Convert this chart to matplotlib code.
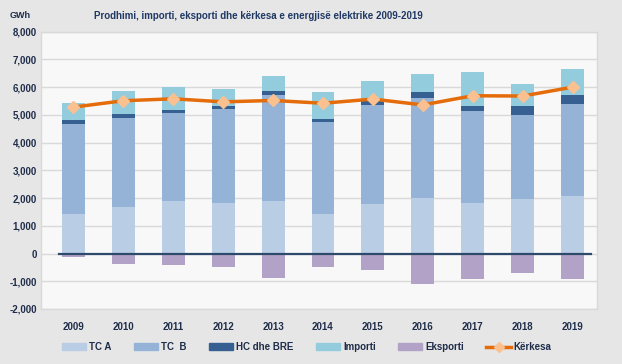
import matplotlib
matplotlib.use('Agg')
import matplotlib.pyplot as plt
from matplotlib.lines import Line2D
from matplotlib.patches import Patch
import numpy as np

# Data (GWh)
years = ['2009', '2010', '2011', '2012', '2013', '2014', '2015', '2016', '2017', '2018', '2019']
tc_a = [1420, 1680, 1890, 1820, 1890, 1420, 1790, 2000, 1820, 1960, 2070]
tc_b = [3250, 3210, 3180, 3390, 3830, 3320, 3570, 3610, 3320, 3030, 3320]
hc_bre = [140, 140, 110, 120, 140, 110, 140, 220, 180, 330, 330]
importi = [610, 830, 830, 600, 540, 970, 720, 650, 1230, 790, 940]
eksporti = [-110, -370, -400, -470, -870, -470, -580, -1090, -910, -690, -910]
kerkesa = [5280, 5510, 5580, 5470, 5520, 5420, 5570, 5360, 5690, 5680, 6000]

c_tca = '#B9CDE5'
c_tcb = '#95B3D7'
c_hc = '#376092'
c_imp = '#93CDDD'
c_eks = '#B3A2C7'
c_ker = '#E46C0A'
c_mark = '#FAC090'
c_text = '#1F2D4A'

plt.rcParams['font.family'] = ['Liberation Sans', 'DejaVu Sans']

fig = plt.figure(figsize=(6.22, 3.64), dpi=100, facecolor='#E6E6E6')
ax = fig.add_axes([41 / 622, 1 - 309 / 364, 556 / 622, 277.3 / 364])
ax.set_facecolor('#F8F8F8')

x = np.arange(len(years))
w = 0.46
b1 = np.array(tc_a)
b2 = b1 + np.array(tc_b)
b3 = b2 + np.array(hc_bre)
ax.bar(x, tc_a, w, color=c_tca, zorder=2)
ax.bar(x, tc_b, w, bottom=b1, color=c_tcb, zorder=2)
ax.bar(x, hc_bre, w, bottom=b2, color=c_hc, zorder=2)
ax.bar(x, importi, w, bottom=b3, color=c_imp, zorder=2)
ax.bar(x, eksporti, w, color=c_eks, zorder=2)

# zero axis line
ax.axhline(0, xmin=0.032, xmax=0.989, color='#2E4A6B', lw=1.6, zorder=3)

ax.plot(x, kerkesa, color=c_ker, lw=2.5, marker='D', markersize=6,
        markerfacecolor=c_mark, markeredgecolor=c_mark, zorder=4)

ax.set_xlim(-0.65, 10.49)
ax.set_ylim(-2000, 8000)
ax.set_yticks(range(-2000, 8001, 1000))
ax.set_yticklabels([f'{v:,}' for v in range(-2000, 8001, 1000)])
ax.set_xticks(x)
ax.set_xticklabels(years)
ax.grid(axis='y', color='#D9D9D9', lw=1, zorder=0)
ax.tick_params(length=0, labelsize=7, labelcolor=c_text)
ax.tick_params(axis='y', pad=3)
ax.tick_params(axis='x', pad=9)
for lab in ax.get_xticklabels() + ax.get_yticklabels():
    lab.set_fontweight('bold')
for s in ax.spines.values():
    s.set_color('#D9D9D9')
    s.set_linewidth(1)

fig.text(258 / 622, 1 - 16 / 364, 'Prodhimi, importi, eksporti dhe kërkesa e energjisë elektrike 2009-2019',
         ha='center', va='center', fontsize=7, fontweight='bold', color='#1F3864')
fig.text(10 / 622, 1 - 15 / 364, 'GWh', ha='left', va='center', fontsize=6.5,
         fontweight='bold', color=c_text)

handles = [Patch(color=c_tca), Patch(color=c_tcb), Patch(color=c_hc),
           Patch(color=c_imp), Patch(color=c_eks),
           Line2D([], [], color=c_ker, lw=2.5, marker='D', markersize=5,
                  markerfacecolor=c_mark, markeredgecolor=c_mark)]
labels = ['TC A', 'TC  B', 'HC dhe BRE', 'Importi', 'Eksporti', 'Kërkesa']
leg = fig.legend(handles, labels, loc='center', bbox_to_anchor=(0.493, 1 - 347 / 364),
                 ncol=6, frameon=False, fontsize=7, handlelength=2.5, handleheight=0.6,
                 columnspacing=2.3, handletextpad=0.3)
for t in leg.get_texts():
    t.set_color(c_text)
    t.set_fontweight('bold')

fig.savefig('out.png', dpi=100, facecolor=fig.get_facecolor())
